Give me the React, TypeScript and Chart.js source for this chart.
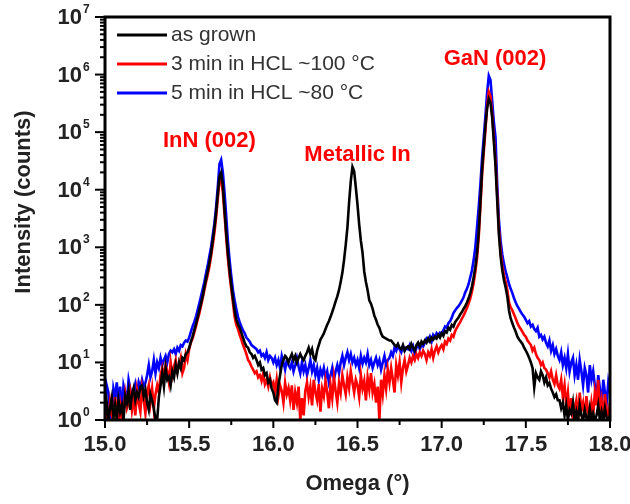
import React, { useEffect, useRef } from "react";
import { Chart, registerables } from "chart.js";

Chart.register(...registerables);

const FONT = '"Liberation Sans", Arial, sans-serif';

const OMEGA = [
  15.00, 15.01, 15.02, 15.03, 15.04, 15.05, 15.06, 15.07, 15.08, 15.09,
  15.10, 15.11, 15.12, 15.13, 15.14, 15.15, 15.16, 15.17, 15.18, 15.19,
  15.20, 15.21, 15.22, 15.23, 15.24, 15.25, 15.26, 15.27, 15.28, 15.29,
  15.30, 15.31, 15.32, 15.33, 15.34, 15.35, 15.36, 15.37, 15.38, 15.39,
  15.40, 15.41, 15.42, 15.43, 15.44, 15.45, 15.46, 15.47, 15.48, 15.49,
  15.50, 15.51, 15.52, 15.53, 15.54, 15.55, 15.56, 15.57, 15.58, 15.59,
  15.60, 15.61, 15.62, 15.63, 15.64, 15.65, 15.66, 15.67, 15.68, 15.69,
  15.70, 15.71, 15.72, 15.73, 15.74, 15.75, 15.76, 15.77, 15.78, 15.79,
  15.80, 15.81, 15.82, 15.83, 15.84, 15.85, 15.86, 15.87, 15.88, 15.89,
  15.90, 15.91, 15.92, 15.93, 15.94, 15.95, 15.96, 15.97, 15.98, 15.99,
  16.00, 16.01, 16.02, 16.03, 16.04, 16.05, 16.06, 16.07, 16.08, 16.09,
  16.10, 16.11, 16.12, 16.13, 16.14, 16.15, 16.16, 16.17, 16.18, 16.19,
  16.20, 16.21, 16.22, 16.23, 16.24, 16.25, 16.26, 16.27, 16.28, 16.29,
  16.30, 16.31, 16.32, 16.33, 16.34, 16.35, 16.36, 16.37, 16.38, 16.39,
  16.40, 16.41, 16.42, 16.43, 16.44, 16.45, 16.46, 16.47, 16.48, 16.49,
  16.50, 16.51, 16.52, 16.53, 16.54, 16.55, 16.56, 16.57, 16.58, 16.59,
  16.60, 16.61, 16.62, 16.63, 16.64, 16.65, 16.66, 16.67, 16.68, 16.69,
  16.70, 16.71, 16.72, 16.73, 16.74, 16.75, 16.76, 16.77, 16.78, 16.79,
  16.80, 16.81, 16.82, 16.83, 16.84, 16.85, 16.86, 16.87, 16.88, 16.89,
  16.90, 16.91, 16.92, 16.93, 16.94, 16.95, 16.96, 16.97, 16.98, 16.99,
  17.00, 17.01, 17.02, 17.03, 17.04, 17.05, 17.06, 17.07, 17.08, 17.09,
  17.10, 17.11, 17.12, 17.13, 17.14, 17.15, 17.16, 17.17, 17.18, 17.19,
  17.20, 17.21, 17.22, 17.23, 17.24, 17.25, 17.26, 17.27, 17.28, 17.29,
  17.30, 17.31, 17.32, 17.33, 17.34, 17.35, 17.36, 17.37, 17.38, 17.39,
  17.40, 17.41, 17.42, 17.43, 17.44, 17.45, 17.46, 17.47, 17.48, 17.49,
  17.50, 17.51, 17.52, 17.53, 17.54, 17.55, 17.56, 17.57, 17.58, 17.59,
  17.60, 17.61, 17.62, 17.63, 17.64, 17.65, 17.66, 17.67, 17.68, 17.69,
  17.70, 17.71, 17.72, 17.73, 17.74, 17.75, 17.76, 17.77, 17.78, 17.79,
  17.80, 17.81, 17.82, 17.83, 17.84, 17.85, 17.86, 17.87, 17.88, 17.89,
  17.90, 17.91, 17.92, 17.93, 17.94, 17.95, 17.96, 17.97, 17.98, 17.99,
  18.00,
];

const AS_GROWN = [
  1.2, 2, 1, 1.6, 2.4, 1.1, 1.8, 1, 2.2, 1.4,
  1.8, 1, 2.6, 2, 3.2, 1.5, 2.8, 3.6, 2.2, 3,
  2.5, 3.8, 4, 2.6, 3.4, 2, 1.5, 2.8, 2.2, 1.6,
  1, 1, 2.5, 4, 6.5, 3.8, 8, 5, 5.6, 4,
  7, 5.5, 9, 6.5, 10, 8, 12, 11, 14, 15,
  18, 23, 28, 36, 46, 60, 80, 105, 140, 200,
  280, 380, 540, 800, 1300, 2200, 4000, 8500, 17000, 20000,
  12000, 4500, 1800, 800, 400, 220, 130, 80, 56, 46,
  40, 33, 27, 22, 19, 18, 15, 14, 12, 13,
  11, 9, 10, 7.5, 8, 6, 6.5, 4.5, 5, 3.5,
  3, 2.2, 2, 4, 6, 9, 11, 13, 12, 10,
  12, 14, 11, 13, 10, 12, 14, 12, 11, 13,
  15, 18, 14, 17, 12, 11, 16, 20, 25, 28,
  32, 38, 45, 52, 62, 75, 92, 115, 140, 180,
  250, 360, 600, 1100, 2200, 6000, 14000, 25000, 21000, 11000,
  5500, 2500, 1300, 800, 380, 250, 180, 120, 105, 85,
  65, 55, 45, 40, 32, 28, 27, 26, 25, 24,
  24, 22, 20, 19, 21, 18, 17, 20, 16, 18,
  19, 17, 21, 18, 16, 20, 22, 19, 23, 21,
  24, 22, 26, 23, 27, 25, 28, 26, 30, 27,
  32, 29, 35, 33, 40, 37, 45, 42, 50, 55,
  60, 68, 75, 85, 95, 110, 130, 160, 210, 300,
  450, 800, 1800, 6000, 22000, 55000, 130000, 260000, 380000, 330000,
  180000, 70000, 26000, 6500, 1700, 700, 400, 270, 200, 140,
  80, 58, 48, 40, 34, 28, 25, 23, 21, 18,
  16, 14, 12, 10, 8, 3.7, 6.5, 5.5, 5, 7,
  6, 4.5, 5.5, 4, 4.4, 3.5, 3, 2.5, 2.8, 2.2,
  2.2, 1.6, 2, 1.2, 1.8, 1, 1.5, 1.3, 2, 1,
  1.4, 1, 1.8, 1.2, 1, 1.5, 1.1, 1, 1.6, 1,
  1.3, 1, 1.2, 1.8, 1, 1.4, 1, 1.6, 1.1, 1,
  1.2,
];

const HCL_3MIN_100C = [
  1, 1.5, 1, 2, 1.2, 1, 2.5, 1.3, 1, 1.8,
  1, 1.4, 2.8, 1.6, 2, 3, 1.5, 2.5, 1.2, 3.2,
  2, 1.4, 3.5, 2.2, 1.3, 3, 4, 2, 3.5, 1.6,
  2.8, 4, 3, 6, 8, 5.5, 9, 7, 4.5, 10,
  6, 8.5, 11, 7, 9, 12, 6.5, 8, 14, 11,
  17, 22, 26, 33, 42, 55, 70, 95, 130, 180,
  250, 330, 460, 700, 1100, 1800, 3300, 7000, 14000, 16000,
  9000, 3800, 1500, 650, 330, 190, 110, 62, 45, 38,
  30, 25, 20, 17, 14, 11, 10, 8.5, 7.5, 6.5,
  7, 5.5, 6, 4.8, 6.5, 4.2, 5, 3.8, 5.5, 4,
  4.5, 3, 5, 2.6, 4, 3.2, 2, 4.4, 2.8, 3.6,
  2.2, 4, 1.5, 3, 2, 3.8, 1, 2.4, 1.2, 3.2,
  4.5, 2.5, 3.8, 1.8, 5, 3, 2.2, 4.2, 1.4, 3.5,
  2.6, 4.8, 3, 1.6, 4, 2.4, 5.5, 3.2, 2, 4.4,
  3, 6, 4, 2.8, 5.5, 3.6, 7, 4.5, 3, 5,
  4, 2.5, 6, 3.5, 4.8, 2.2, 5.5, 3.4, 6.5, 3,
  4.2, 2, 3.8, 1, 5, 2.8, 6, 3.5, 7.5, 4.5,
  8, 5, 3, 9, 6, 10, 4.5, 8, 11, 7,
  9, 12, 10, 13, 11, 14, 12, 15, 13, 16,
  14, 11, 15, 13, 17, 12, 16, 19, 15, 18,
  20, 17, 23, 21, 26, 24, 30, 28, 35, 40,
  45, 50, 58, 65, 75, 88, 105, 130, 170, 240,
  380, 650, 1500, 5000, 18000, 45000, 110000, 280000, 500000, 420000,
  200000, 80000, 30000, 8000, 2000, 850, 480, 330, 250, 180,
  110, 90, 80, 68, 58, 48, 42, 38, 34, 30,
  28, 24, 22, 20, 16, 18, 14, 12, 11, 9,
  10, 8, 7.5, 6.5, 5.5, 7, 5, 4.2, 6, 4,
  3.5, 5, 2.5, 4, 1.8, 3, 1.2, 2.4, 1, 1.6,
  2.2, 1, 3, 1.5, 2, 1.1, 2.6, 1.4, 1, 2,
  1.2, 3, 1.8, 5, 1.4, 2.2, 1, 2.8, 1.5, 1,
  2,
];

const HCL_5MIN_80C = [
  2.2, 4, 3, 1.5, 1, 3.5, 2.5, 4.5, 2, 3.8,
  1.2, 4, 3, 2.2, 5, 3.5, 1.8, 3, 4.2, 2.8,
  4.5, 3.6, 5, 3.8, 4.4, 6, 9, 5.5, 7, 11,
  6.5, 10, 8, 12, 9, 11, 13, 10, 14, 16,
  15, 17, 14, 18, 16, 20, 19, 22, 24, 23,
  27, 34, 42, 50, 62, 80, 105, 140, 185, 250,
  350, 480, 700, 1000, 1600, 2600, 5000, 11000, 28000, 33000,
  20000, 9000, 3500, 1300, 600, 320, 180, 120, 85, 62,
  50, 42, 36, 32, 27, 25, 23, 20, 19, 18,
  17, 15, 16, 13, 14, 12, 15, 11, 13, 12,
  10, 12, 9, 11, 8, 13, 10, 7.5, 11, 9,
  8, 10, 7, 9, 12, 8.5, 6.5, 10, 7, 9,
  6, 8, 11, 7, 9, 6, 8, 5, 7.5, 6,
  8, 5.5, 7, 4.5, 6, 8, 5, 7, 9, 6.5,
  10, 13, 9, 12, 15, 11, 14, 10, 12, 9,
  11, 8, 13, 9.5, 12, 10, 14, 9, 11, 8,
  10, 12, 9, 11, 7.5, 10, 13, 9, 11, 12,
  15, 13, 18, 16, 20, 17, 15, 19, 16, 18,
  17, 20, 16, 19, 14, 18, 21, 17, 20, 19,
  22, 26, 24, 28, 23, 30, 27, 32, 29, 33,
  32, 36, 42, 40, 48, 52, 60, 72, 80, 88,
  95, 105, 118, 135, 165, 190, 230, 300, 400, 600,
  1000, 2200, 5000, 12000, 35000, 80000, 190000, 480000, 950000, 800000,
  350000, 150000, 80000, 12000, 3000, 1300, 750, 520, 380, 300,
  230, 190, 160, 130, 110, 95, 85, 75, 68, 62,
  55, 48, 52, 42, 45, 38, 35, 40, 28, 30,
  25, 28, 22, 19, 24, 16, 20, 14, 17, 13,
  11, 15, 9, 12, 8, 14, 7, 10, 12, 6,
  9, 5, 11, 7, 4, 8, 6, 3, 9, 5,
  7, 4, 2, 6, 3.5, 1.5, 5, 3, 2, 4.5,
  3,
];

const SERIES_LABELS = ["as grown", "3 min in HCL ~100 \u00B0C", "5 min in HCL ~80 \u00B0C"];
const SERIES_COLORS = ["#000000", "#ff0000", "#0000ff"];

const Y_TICK_VALUES = [1, 10, 100, 1000, 10000, 100000, 1000000, 10000000];
const Y_TICK_EXPONENTS = ["0", "1", "2", "3", "4", "5", "6", "7"];
const Y_MINOR_MULTIPLIERS = [2, 3, 4, 5, 6, 7, 8, 9];
const X_MAJOR_TICKS = [15.0, 15.5, 16.0, 16.5, 17.0, 17.5, 18.0];
const X_MINOR_TICKS = [15.25, 15.75, 16.25, 16.75, 17.25, 17.75];

const PEAK_LABELS = ["InN (002)", "Metallic In", "GaN (002)"];
const PEAK_LABEL_X = [15.62, 16.5, 17.317];
const PEAK_LABEL_Y = [70000, 40000, 1850000];

const X_TITLE = "Omega (\u00B0)";
const Y_TITLE = "Intensity (counts)";

const decorPlugin = {
  id: "decor",
  afterDraw(chart: any) {
    const { ctx, chartArea: ca, scales } = chart;
    const xs = scales.x;
    const ys = scales.y;
    ctx.save();

    // ticks on y axis (outside)
    ctx.strokeStyle = "#000";
    ctx.lineWidth = 2;
    Y_TICK_VALUES.forEach((v, i) => {
      const py = ys.getPixelForValue(v);
      ctx.beginPath();
      ctx.moveTo(ca.left - 10, py);
      ctx.lineTo(ca.left, py);
      ctx.stroke();
      if (i < Y_TICK_VALUES.length - 1) {
        Y_MINOR_MULTIPLIERS.forEach((m) => {
          const pm = ys.getPixelForValue(v * m);
          ctx.beginPath();
          ctx.moveTo(ca.left - 5, pm);
          ctx.lineTo(ca.left, pm);
          ctx.stroke();
        });
      }
    });
    // ticks on x axis (outside)
    X_MAJOR_TICKS.forEach((v) => {
      const px = xs.getPixelForValue(v);
      ctx.beginPath();
      ctx.moveTo(px, ca.bottom);
      ctx.lineTo(px, ca.bottom + 8);
      ctx.stroke();
    });
    X_MINOR_TICKS.forEach((v) => {
      const px = xs.getPixelForValue(v);
      ctx.beginPath();
      ctx.moveTo(px, ca.bottom);
      ctx.lineTo(px, ca.bottom + 5);
      ctx.stroke();
    });

    // frame
    ctx.lineWidth = 3;
    ctx.strokeRect(ca.left, ca.top, ca.right - ca.left, ca.bottom - ca.top);

    // y tick labels with superscript exponents
    ctx.fillStyle = "#222";
    Y_TICK_VALUES.forEach((v, i) => {
      const py = ys.getPixelForValue(v);
      ctx.font = `bold 22px ${FONT}`;
      ctx.textAlign = "right";
      ctx.textBaseline = "middle";
      ctx.fillText("10", ca.left - 23, py + 1);
      ctx.font = `bold 12px ${FONT}`;
      ctx.textAlign = "left";
      ctx.textBaseline = "alphabetic";
      ctx.fillText(Y_TICK_EXPONENTS[i], ca.left - 22, py - 4);
    });

    // axis titles
    ctx.font = `bold 22px ${FONT}`;
    ctx.textAlign = "center";
    ctx.textBaseline = "middle";
    ctx.fillStyle = "#222";
    ctx.fillText(X_TITLE, (ca.left + ca.right) / 2, 484);
    ctx.save();
    ctx.translate(24, 202);
    ctx.rotate(-Math.PI / 2);
    ctx.fillText(Y_TITLE, 0, 0);
    ctx.restore();

    // legend
    const rows = [35, 64, 93];
    SERIES_LABELS.forEach((lab, i) => {
      const ry = rows[i];
      ctx.strokeStyle = SERIES_COLORS[i];
      ctx.lineWidth = 3;
      ctx.beginPath();
      ctx.moveTo(ca.left + 12, ry);
      ctx.lineTo(ca.left + 62, ry);
      ctx.stroke();
      ctx.fillStyle = "#333";
      ctx.font = `21px ${FONT}`;
      ctx.textAlign = "left";
      ctx.textBaseline = "middle";
      ctx.fillText(lab, ca.left + 66, ry);
    });

    // peak annotations
    ctx.fillStyle = "#ff0000";
    ctx.font = `bold 22px ${FONT}`;
    ctx.textAlign = "center";
    ctx.textBaseline = "middle";
    PEAK_LABELS.forEach((lab, i) => {
      ctx.fillText(lab, xs.getPixelForValue(PEAK_LABEL_X[i]), ys.getPixelForValue(PEAK_LABEL_Y[i]));
    });

    ctx.restore();
  },
};

export default function App() {
  const ref = useRef<HTMLCanvasElement | null>(null);
  useEffect(() => {
    if (!ref.current) return;
    const series = [AS_GROWN, HCL_3MIN_100C, HCL_5MIN_80C];
    const chart = new Chart(ref.current, {
      type: "line",
      data: {
        datasets: series.map((vals, si) => ({
          label: SERIES_LABELS[si],
          data: OMEGA.map((x, i) => ({ x, y: vals[i] })),
          borderColor: SERIES_COLORS[si],
          borderWidth: 2.6,
          pointRadius: 0,
          tension: 0,
          fill: false,
        })),
      },
      options: {
        animation: false,
        responsive: false,
        devicePixelRatio: 1,
        layout: { padding: { top: 17, right: 20, left: 0, bottom: 0 } },
        plugins: { legend: { display: false }, tooltip: { enabled: false } },
        scales: {
          x: {
            type: "linear",
            min: 15,
            max: 18,
            grid: { display: false, drawTicks: false },
            border: { display: false },
            ticks: {
              stepSize: 0.5,
              autoSkip: false,
              maxRotation: 0,
              padding: 12,
              color: "#222",
              font: { size: 22, weight: "bold", family: FONT },
              callback: (v: any) => Number(v).toFixed(1),
            },
            afterFit: (s: any) => {
              s.height = 84;
              s.paddingLeft = 0;
              s.paddingRight = 0;
            },
          },
          y: {
            type: "logarithmic",
            min: 1,
            max: 10000000,
            grid: { display: false, drawTicks: false },
            border: { display: false },
            ticks: { display: false },
            afterFit: (s: any) => {
              s.width = 105;
            },
          },
        },
      } as any,
      plugins: [decorPlugin],
    });
    return () => chart.destroy();
  }, []);
  return (
    <div style={{ position: "absolute", left: 0, top: 0, width: 630, height: 504, background: "#fff" }}>
      <canvas ref={ref} width={630} height={504} style={{ width: 630, height: 504 }} />
    </div>
  );
}
